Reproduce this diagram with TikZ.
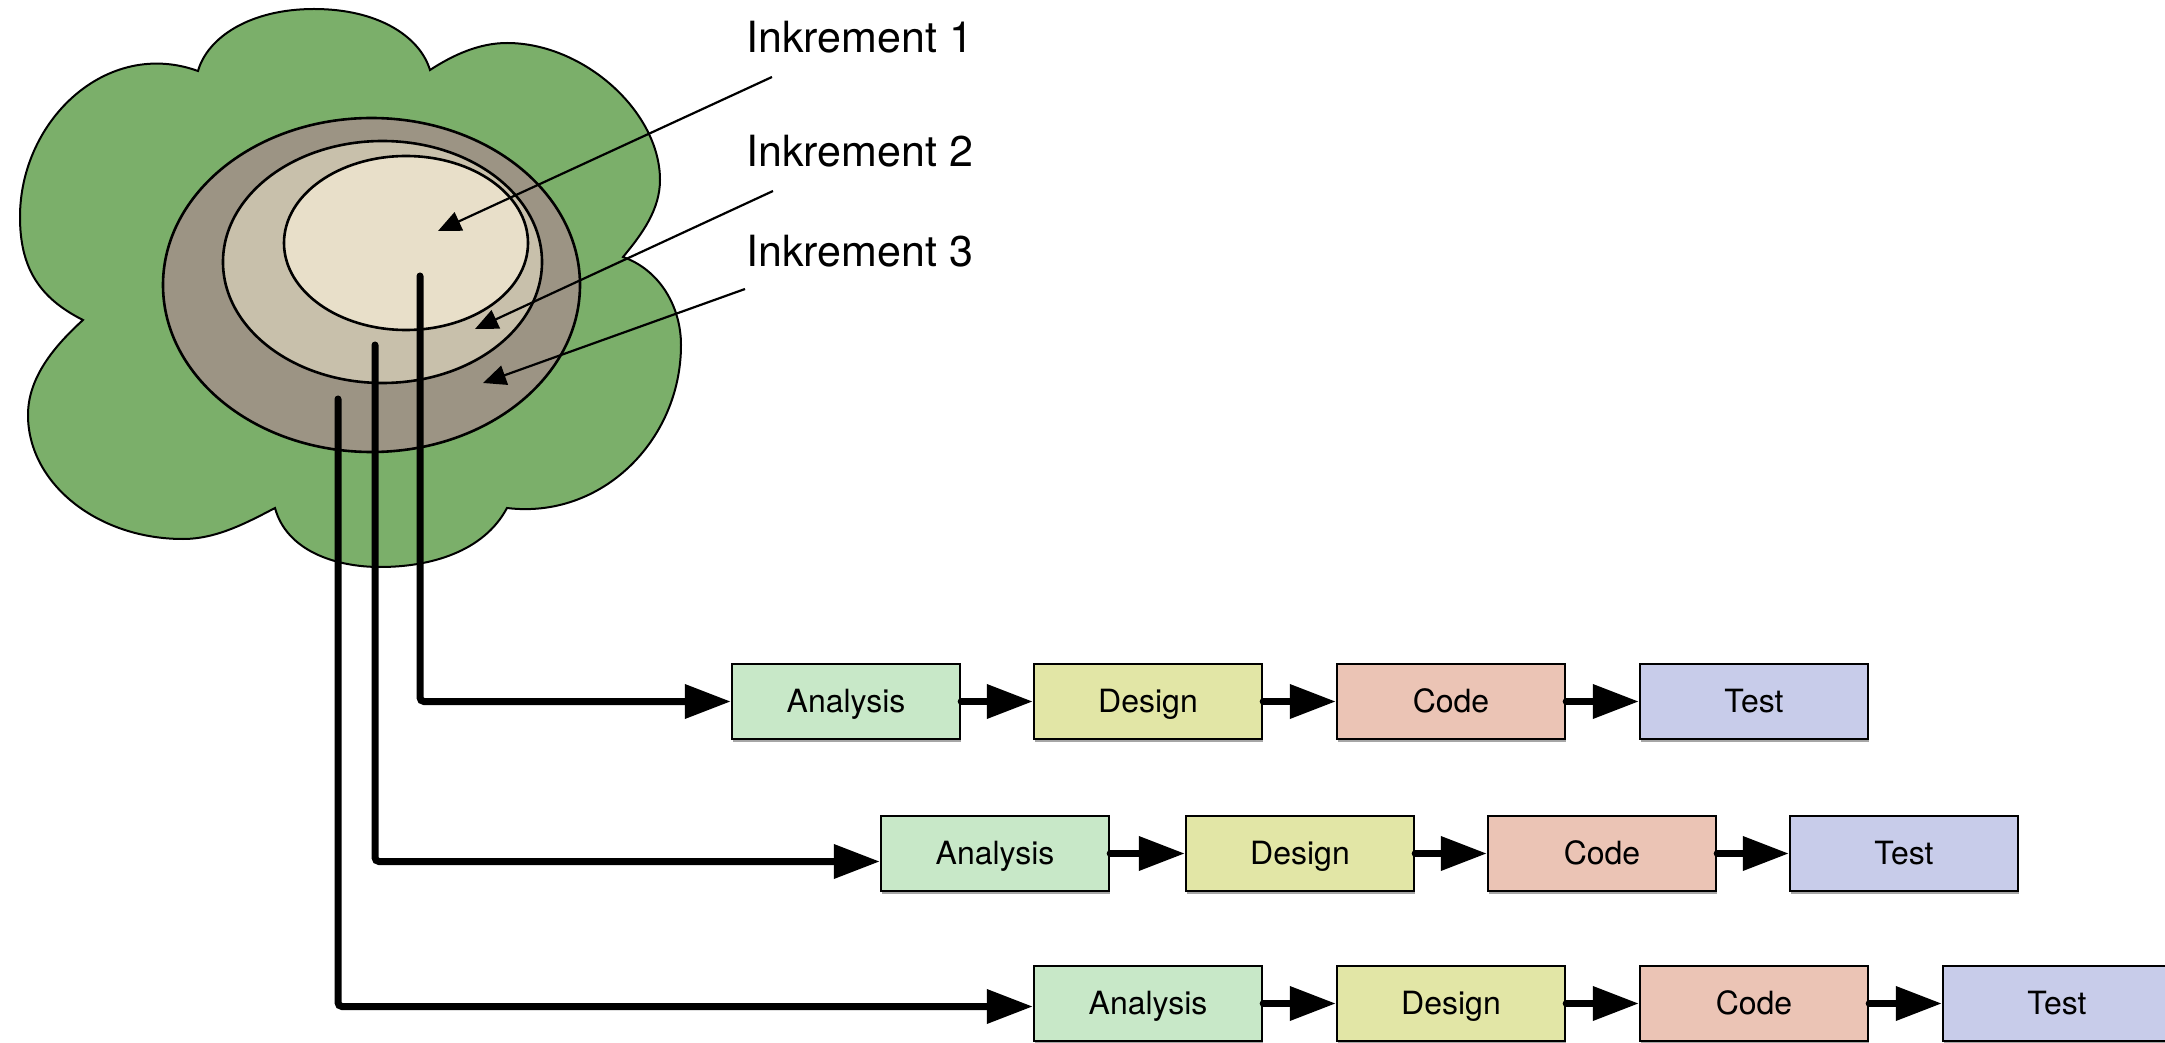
\documentclass[tikz,border=0pt]{standalone}
\usepackage{fontspec}
\setmainfont{TeX Gyre Heros}
\usetikzlibrary{arrows.meta,shadows}
\definecolor{cloudgreen}{RGB}{123,175,106}
\definecolor{ringthree}{RGB}{156,148,132}
\definecolor{ringtwo}{RGB}{200,192,171}
\definecolor{ringone}{RGB}{232,223,201}
\definecolor{anacol}{RGB}{200,232,200}
\definecolor{descol}{RGB}{226,230,166}
\definecolor{codcol}{RGB}{235,196,181}
\definecolor{tstcol}{RGB}{200,204,234}
\begin{document}
\begin{tikzpicture}[x=0.5pt,y=-0.5pt,
  stage/.style={draw=black, line width=1.2pt, minimum width=114pt, minimum height=37.5pt,
    inner sep=0pt, text height=10.8pt, text depth=0pt, font=\fontsize{16}{19}\selectfont,
    drop shadow={shadow xshift=0.4pt, shadow yshift=-1.6pt, opacity=0.35, fill=black}},
  conn/.style={line width=3.5pt, line cap=round, rounded corners=2pt,
    -{Triangle[length=23pt,width=16.5pt]}},
  pointer/.style={line width=1.1pt, -{Triangle[length=11.5pt,width=10pt]}},
  label/.style={anchor=base west, inner sep=0pt, font=\fontsize{21.5}{25}\selectfont},
  ring/.style={draw=black, line width=1.3pt},
  cloudst/.style={draw=black, line width=1pt, fill=cloudgreen}]
\useasboundingbox (0,0) rectangle (2165,1043);
\clip (0,0) rectangle (2165,1043);
% cloud
\filldraw[cloudst] (198,71)
 .. controls (107,38) and (20,120) .. (20,217)
 .. controls (20,267) and (38.5,297.7) .. (83,320)
 .. controls (55,345.5) and (28,377) .. (28,415)
 .. controls (28,483.5) and (97.4,539) .. (183,539)
 .. controls (216,539) and (245.8,523.3) .. (275,508)
 .. controls (286.6,550.8) and (335.4,567) .. (380,567)
 .. controls (430,567) and (483.5,552) .. (507,508)
 .. controls (601.5,519.5) and (681,440.5) .. (681,345)
 .. controls (681,306.3) and (659.4,269.8) .. (623,257)
 .. controls (642,234.2) and (660,209.6) .. (660,180)
 .. controls (660,111.5) and (583.5,43) .. (507,43)
 .. controls (479.3,43) and (453.3,54.8) .. (430,70)
 .. controls (419.8,36.4) and (378,9) .. (314,9)
 .. controls (250,9) and (207.5,37.4) .. (198,71)
 -- cycle;
% rings
\filldraw[ring, fill=ringthree] (371.5,285) ellipse [x radius=104.25pt, y radius=83.5pt];
\filldraw[ring, fill=ringtwo] (382.5,262) ellipse [x radius=79.75pt, y radius=60.5pt];
\filldraw[ring, fill=ringone] (406,243) ellipse [x radius=61pt, y radius=43.5pt];
% labels
\node[label] (l1) at (746,53) {Inkrement 1};
\node[label] (l2) at (746,167) {Inkrement 2};
\node[label] (l3) at (746,267) {Inkrement 3};
\coordinate (p1s) at (772,77);
\coordinate (p2s) at (773,191);
\coordinate (p3s) at (745,289);
\coordinate (p1e) at (438,231);
\coordinate (p2e) at (475,329);
\coordinate (p3e) at (483,383);
\draw[pointer] (p1s) -- (p1e);
\draw[pointer] (p2s) -- (p2e);
\draw[pointer] (p3s) -- (p3e);
% stage boxes
\node[stage, fill=anacol] (a1) at (846,701.5) {Analysis};
\node[stage, fill=descol] (d1) at (1148,701.5) {Design};
\node[stage, fill=codcol] (c1) at (1451,701.5) {Code};
\node[stage, fill=tstcol] (t1) at (1754,701.5) {Test};
\node[stage, fill=anacol] (a2) at (995,853.5) {Analysis};
\node[stage, fill=descol] (d2) at (1300,853.5) {Design};
\node[stage, fill=codcol] (c2) at (1602,853.5) {Code};
\node[stage, fill=tstcol] (t2) at (1904,853.5) {Test};
\node[stage, fill=anacol] (a3) at (1148,1003.5) {Analysis};
\node[stage, fill=descol] (d3) at (1451,1003.5) {Design};
\node[stage, fill=codcol] (c3) at (1754,1003.5) {Code};
\node[stage, fill=tstcol] (t3) at (2057,1003.5) {Test};
% feeder lines
\coordinate (s1) at (420,276);
\coordinate (s2) at (375,345);
\coordinate (s3) at (338,399);
\draw[conn] (s1) |- (a1.west);
\draw[conn] (s2) |- ([yshift=-4pt]a2.west);
\draw[conn] (s3) |- ([yshift=-1.5pt]a3.west);
\foreach \r in {1,2,3}{
  \draw[conn] (a\r) -- (d\r);
  \draw[conn] (d\r) -- (c\r);
  \draw[conn] (c\r) -- (t\r);
}
\end{tikzpicture}
\end{document}
